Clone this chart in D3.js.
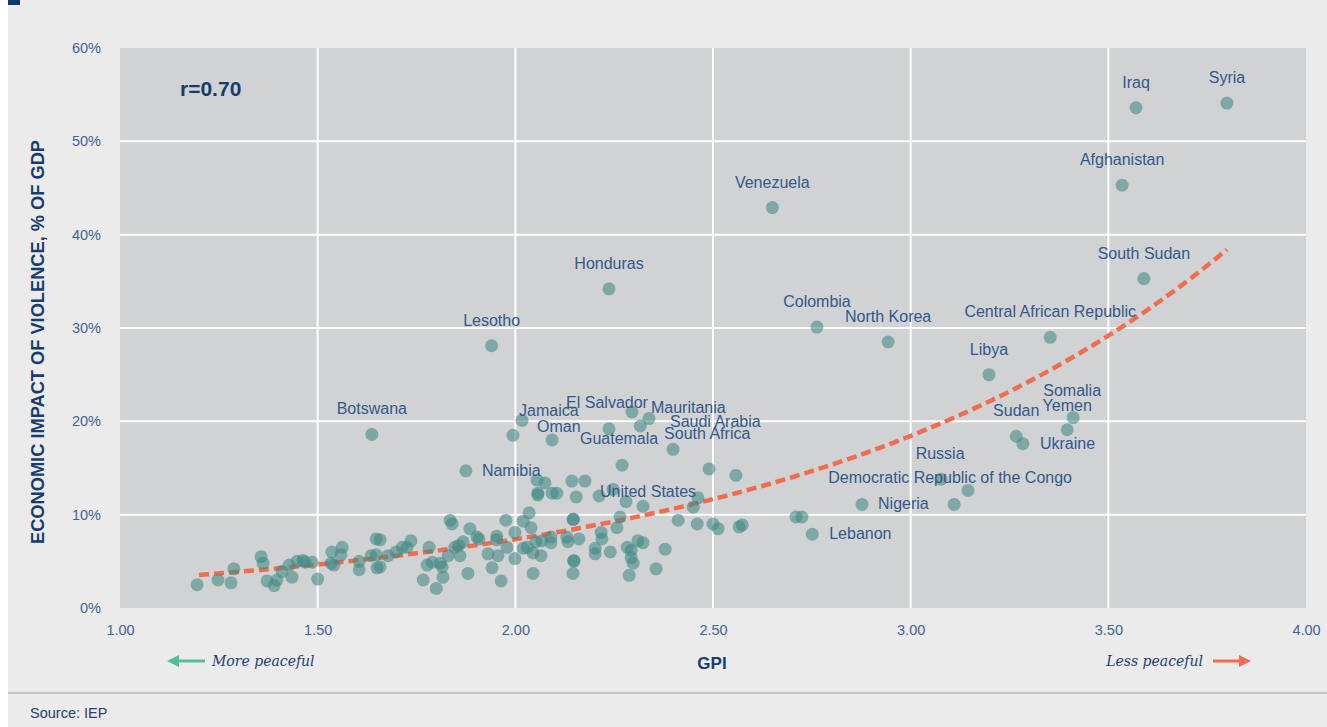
<!DOCTYPE html>
<html>
<head>
<meta charset="utf-8">
<script src="https://cdn.jsdelivr.net/npm/d3@7"></script>
<style>
  body { margin: 0; background: #ffffff; }
  svg { display: block; }
</style>
</head>
<body>
<script>
// labelled countries: GPI score, economic impact of violence (% of GDP)
let countries = ["Syria", "Iraq", "Afghanistan", "South Sudan", "Venezuela", "Honduras", "Lesotho",
  "Colombia", "North Korea", "Central African Republic", "Libya", "Somalia", "Yemen", "Sudan",
  "Ukraine", "Russia", "Democratic Republic of the Congo", "Nigeria", "Lebanon", "Botswana",
  "Namibia", "Jamaica", "Oman", "El Salvador", "Mauritania", "Saudi Arabia", "Guatemala",
  "South Africa", "United States"];
let gpi = [3.80, 3.57, 3.535, 3.59, 2.65, 2.237, 1.94,
  2.763, 2.943, 3.353, 3.198, 3.411, 3.396, 3.267,
  3.284, 3.077, 3.11, 2.877, 2.751, 1.637,
  1.875, 2.017, 2.093, 2.237, 2.295, 2.338, 2.27,
  2.399, 2.28];
let impact = [54.1, 53.6, 45.3, 35.3, 42.9, 34.2, 28.1,
  30.1, 28.5, 29.0, 25.0, 20.4, 19.1, 18.4,
  17.6, 13.8, 11.1, 11.1, 7.9, 18.6,
  14.7, 20.1, 18.0, 19.2, 21.0, 20.3, 15.3,
  17.0, 11.4];

// other countries (unlabelled)
let otherGpi = [1.994, 2.316, 2.49, 2.558, 3.145, 2.71, 2.725,
  2.055, 2.075, 2.143, 2.176, 2.057, 2.057, 2.093, 2.105, 2.154, 2.212, 2.247, 2.323,
  2.462, 2.45, 2.265, 2.412, 2.46, 2.50, 2.513, 2.566, 2.574,
  2.146, 2.257, 2.217, 2.161, 2.219, 2.202, 2.202, 2.24, 2.283, 2.293, 2.31, 2.323,
  2.379, 2.293, 2.298, 2.148, 2.356, 2.146, 2.288,
  1.835, 1.84, 2.035, 1.976, 2.02, 2.04, 1.999, 2.147, 1.885, 1.903, 1.908, 1.953, 1.953,
  1.868, 1.847, 1.857, 1.782, 1.736, 1.726, 1.714, 1.698, 1.678, 1.658, 1.658,
  1.83, 1.86, 1.777, 1.81, 1.815, 1.79, 1.767, 1.80, 1.817, 1.88, 1.931, 1.956, 1.979,
  1.941, 1.964, 1.999, 2.02, 2.03, 2.045, 2.065, 2.045, 2.052, 2.067, 2.09, 2.09,
  2.13, 2.133, 2.148,
  1.195, 1.248, 1.281, 1.288, 1.357, 1.362, 1.372, 1.39, 1.397, 1.41, 1.428, 1.435,
  1.448, 1.463, 1.468, 1.486, 1.50, 1.536, 1.534, 1.541, 1.562, 1.559, 1.605, 1.605,
  1.635, 1.648, 1.648, 1.65];
let otherImpact = [18.5, 19.5, 14.9, 14.2, 12.6, 9.75, 9.75,
  13.7, 13.4, 13.6, 13.6, 12.3, 12.1, 12.3, 12.3, 11.9, 12.0, 12.7, 10.9,
  11.8, 10.8, 9.75, 9.4, 9.0, 9.0, 8.5, 8.7, 8.9,
  9.5, 8.6, 8.1, 7.4, 7.4, 6.4, 5.8, 6.0, 6.5, 6.2, 7.2, 7.0,
  6.3, 5.4, 4.8, 5.1, 4.2, 3.7, 3.5,
  9.4, 9.0, 10.2, 9.4, 9.3, 8.6, 8.1, 9.5, 8.5, 7.6, 7.4, 7.7, 7.3,
  7.1, 6.5, 6.7, 6.5, 7.2, 6.5, 6.5, 6.0, 5.6, 7.3, 4.4,
  5.6, 5.6, 4.6, 4.8, 4.4, 4.9, 3.0, 2.1, 3.3, 3.7, 5.8, 5.6, 6.5,
  4.3, 2.9, 5.3, 6.4, 6.5, 5.9, 5.6, 3.7, 7.1, 7.2, 7.6, 7.0,
  7.6, 7.1, 5.0,
  2.5, 3.0, 2.7, 4.2, 5.5, 4.8, 2.9, 2.4, 3.0, 3.9, 4.6, 3.3,
  5.0, 5.1, 4.9, 4.9, 3.1, 6.0, 4.8, 4.6, 6.5, 5.7, 5.0, 4.1,
  5.6, 5.7, 7.4, 4.3];

let xTicks = [1.0, 1.5, 2.0, 2.5, 3.0, 3.5, 4.0];
let yTicks = [0, 10, 20, 30, 40, 50, 60];

// exponential trend: impact = a * exp(b * gpi), drawn between these GPI scores
let trendA = 1.178;
let trendB = 0.917;
let trendRange = [1.2, 3.8];
let rValue = "r=0.70";

// label placement relative to the dot: [dx, dy, anchor]
let labelPos = {
  "Ukraine": [17, 5, "start"],
  "Nigeria": [16, 5, "start"],
  "Lebanon": [17, 5, "start"],
  "Namibia": [16, 5, "start"],
  "Jamaica": [-3, -4, "start"],
  "Oman": [-15, -8, "start"],
  "El Salvador": [-2, -21, "middle"],
  "Mauritania": [19, 1, "start"],
  "Saudi Arabia": [21, 8, "start"],
  "South Africa": [-9, -10, "start"],
  "United States": [-26, -5, "start"],
  "Democratic Republic of the Congo": [-4, -21, "middle"],
  "Yemen": [0, -19, "middle"],
  "Somalia": [-1, -22, "middle"],
  "Russia": [-1, -20, "middle"],
  "Guatemala": [-3, -21, "middle"]
};

let width = 1327, height = 727;
let navy = "#163d6e";
let labelColor = "#32598b";
let tickColor = "#45648f";
let sans = "'Liberation Sans', Arial, sans-serif";

let svg = d3.select("body").append("svg")
  .attr("width", width)
  .attr("height", height);

// page background
svg.append("rect").attr("x", 8).attr("y", 0)
  .attr("width", width - 8).attr("height", height)
  .attr("fill", "#ebebeb");
svg.append("rect").attr("x", 8).attr("y", 0)
  .attr("width", 12).attr("height", 5)
  .attr("fill", "#0f3a6e");

let x = d3.scaleLinear().domain([1, 4]).range([120, 1306]);
let y = d3.scaleLinear().domain([0, 60]).range([608, 48]);

// plot area
svg.append("rect")
  .attr("x", x(1)).attr("y", y(60))
  .attr("width", x(4) - x(1)).attr("height", y(0) - y(60))
  .attr("fill", "#d1d2d4");

// grid
let grid = svg.append("g");
grid.selectAll(".vgrid")
  .data(xTicks.slice(1, -1))
  .enter().append("line")
  .attr("x1", d => x(d)).attr("x2", d => x(d))
  .attr("y1", y(60)).attr("y2", y(0))
  .attr("stroke", "#ffffff").attr("stroke-width", 2);
grid.selectAll(".hgrid")
  .data(yTicks.slice(1, -1))
  .enter().append("line")
  .attr("x1", x(1)).attr("x2", x(4))
  .attr("y1", d => y(d)).attr("y2", d => y(d))
  .attr("stroke", "#ffffff").attr("stroke-width", 2);

// axes (text only)
let xAxis = svg.append("g")
  .attr("transform", "translate(0," + (y(0) + 14) + ")")
  .call(d3.axisBottom(x).tickValues(xTicks).tickFormat(d3.format(".2f")).tickSize(0));
let yAxis = svg.append("g")
  .attr("transform", "translate(" + (x(1) - 16) + ",0)")
  .call(d3.axisLeft(y).tickValues(yTicks).tickFormat(d => d + "%").tickSize(0));
[xAxis, yAxis].forEach(function(a) {
  a.select(".domain").remove();
  a.selectAll("text")
    .attr("fill", tickColor)
    .style("font-family", sans)
    .style("font-size", "14.5px");
});

// trend line
let trendPts = d3.range(trendRange[0], trendRange[1] + 0.001, 0.02);
svg.append("path")
  .datum(trendPts)
  .attr("fill", "none")
  .attr("stroke", "#f26d4f")
  .attr("stroke-width", 4.5)
  .attr("stroke-dasharray", "10,5")
  .attr("d", d3.line()
    .x(d => x(d))
    .y(d => y(trendA * Math.exp(trendB * d))));

// dots
let dots = [];
otherGpi.forEach((g, i) => dots.push({ g: g, v: otherImpact[i] }));
countries.forEach((c, i) => dots.push({ g: gpi[i], v: impact[i], name: c }));

svg.append("g").selectAll("circle")
  .data(dots)
  .enter().append("circle")
  .attr("cx", d => x(d.g))
  .attr("cy", d => y(d.v))
  .attr("r", 6.5)
  .attr("fill", "#3f8a83")
  .attr("fill-opacity", 0.58);

// country labels
svg.append("g").selectAll("text")
  .data(dots.filter(d => d.name))
  .enter().append("text")
  .attr("x", d => x(d.g) + (labelPos[d.name] ? labelPos[d.name][0] : 0))
  .attr("y", d => y(d.v) + (labelPos[d.name] ? labelPos[d.name][1] : -20))
  .attr("text-anchor", d => labelPos[d.name] ? labelPos[d.name][2] : "middle")
  .attr("fill", labelColor)
  .style("font-family", sans)
  .style("font-size", "16px")
  .text(d => d.name);

// r value
svg.append("text")
  .attr("x", 180).attr("y", 96)
  .attr("fill", navy)
  .style("font-family", sans)
  .style("font-size", "21px")
  .style("font-weight", "bold")
  .text(rValue);

// axis titles
svg.append("text")
  .attr("transform", "translate(44," + 342 + ") rotate(-90)")
  .attr("text-anchor", "middle")
  .attr("fill", navy)
  .attr("textLength", 404)
  .attr("lengthAdjust", "spacingAndGlyphs")
  .style("font-family", sans)
  .style("font-size", "17.5px")
  .style("font-weight", "bold")
  .text("ECONOMIC IMPACT OF VIOLENCE, % OF GDP");

svg.append("text")
  .attr("x", 712).attr("y", 669)
  .attr("text-anchor", "middle")
  .attr("fill", navy)
  .style("font-family", sans)
  .style("font-size", "17px")
  .style("font-weight", "bold")
  .text("GPI");

// direction hints
function arrow(x1, x2, yy, color) {
  let dir = x2 > x1 ? 1 : -1;
  svg.append("line")
    .attr("x1", x1).attr("x2", x2 - dir * 8)
    .attr("y1", yy).attr("y2", yy)
    .attr("stroke", color).attr("stroke-width", 3);
  svg.append("path")
    .attr("d", "M" + x2 + "," + yy + "L" + (x2 - dir * 12) + "," + (yy - 6) +
      "L" + (x2 - dir * 12) + "," + (yy + 6) + "Z")
    .attr("fill", color);
}
arrow(205, 167, 661, "#4fbf9f");
arrow(1213, 1251, 661, "#f26d4f");

svg.append("text")
  .attr("x", 212).attr("y", 666)
  .attr("fill", "#1f3f6d")
  .style("font-family", "'DejaVu Serif', 'Liberation Serif', serif")
  .style("font-style", "italic")
  .style("font-size", "14px")
  .text("More peaceful");
svg.append("text")
  .attr("x", 1203).attr("y", 666)
  .attr("text-anchor", "end")
  .attr("fill", "#1f3f6d")
  .style("font-family", "'DejaVu Serif', 'Liberation Serif', serif")
  .style("font-style", "italic")
  .style("font-size", "14px")
  .text("Less peaceful");

// footer
svg.append("line")
  .attr("x1", 8).attr("x2", width)
  .attr("y1", 693).attr("y2", 693)
  .attr("stroke", "#c6c6c6").attr("stroke-width", 2);
svg.append("text")
  .attr("x", 30).attr("y", 718)
  .attr("fill", "#23416e")
  .style("font-family", sans)
  .style("font-size", "14.5px")
  .text("Source: IEP");
</script>
</body>
</html>
